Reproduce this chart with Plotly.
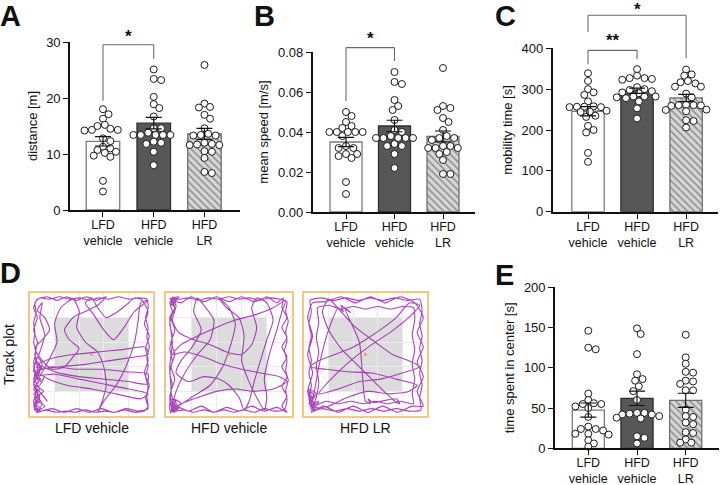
import numpy as np
import plotly.graph_objects as go

W, H = 723, 485
FONT = "Liberation Sans, Arial, sans-serif"

# ---------------- data ----------------
groups = ["LFD<br>vehicle", "HFD<br>vehicle", "HFD<br>LR"]

dist_lfd = [18.0, 17.1, 16.3, 15.2, 15.0, 14.5, 14.3, 14.3, 14.2, 12.8, 12.3, 11.3, 11.0, 10.7, 10.4, 10.2, 9.7, 9.5, 5.2, 3.3]
dist_hfd = [25.1, 23.4, 23.2, 20.2, 18.9, 18.2, 16.7, 14.6, 14.6, 13.4, 13.4, 13.4, 13.4, 13.4, 13.8, 12.0, 12.2, 11.8, 10.4, 8.0]
dist_lr = [25.9, 19.0, 18.4, 18.3, 17.0, 16.3, 14.6, 13.3, 13.6, 13.3, 13.4, 12.0, 11.6, 11.7, 11.6, 11.8, 10.5, 10.4, 9.3, 6.8, 6.6]

speed_lfd = [0.050, 0.048, 0.045, 0.043, 0.042, 0.038, 0.040, 0.040, 0.040, 0.040, 0.040, 0.032, 0.032, 0.033, 0.028, 0.029, 0.029, 0.027, 0.015, 0.009]
speed_hfd = [0.070, 0.065, 0.064, 0.056, 0.053, 0.051, 0.046, 0.041, 0.040, 0.037, 0.037, 0.037, 0.037, 0.037, 0.038, 0.033, 0.034, 0.033, 0.029, 0.022]
speed_lr = [0.072, 0.053, 0.052, 0.051, 0.047, 0.045, 0.041, 0.037, 0.038, 0.036, 0.037, 0.033, 0.032, 0.032, 0.032, 0.033, 0.030, 0.029, 0.026, 0.019, 0.019]

mob_lfd = [339, 320, 300, 292, 286, 270, 258, 257, 257, 256, 256, 247, 245, 244, 235, 232, 210, 200, 194, 144, 122]
mob_hfd = [349, 333, 327, 327, 325, 323, 305, 295, 300, 298, 292, 290, 282, 282, 282, 280, 278, 270, 253, 228]
mob_lr = [348, 336, 333, 320, 317, 314, 306, 306, 289, 280, 261, 261, 262, 260, 259, 249, 250, 246, 224, 222, 206]

center_lfd = [146, 125, 123, 68, 60, 56, 55, 55, 52, 50, 39, 27, 24, 24, 22, 18, 17, 18, 10, 6, 2]
center_hfd = [149, 142, 117, 92, 86, 84, 77, 71, 60, 44, 43, 42, 44, 42, 40, 38, 37, 15, 13, 6]
center_lr = [141, 113, 105, 95, 94, 84, 83, 80, 72, 72, 48, 40, 39, 32, 30, 20, 19, 11, 7, 7]

# significance brackets: (panel, x_from, x_to, y_top, y_left_end, y_right_end, label, label_y)
brackets = [
    ("A", 0, 1, 29.5, 19.5, 27.0, "*", 30.9),
    ("B", 0, 1, 0.0822, 0.0555, 0.0755, "*", 0.0866),
    ("C", 0, 1, 395, 361, 374, "**", 419),
    ("C", 0, 2, 481, 440, 376, "*", 495),
]

track_names = ["LFD vehicle", "HFD vehicle", "HFD LR"]
track_lfd = (
    "4,4 3,12 5,20 3,28 4,36 3,44 5,52 3,60 4,68 3,76 5,84 4,92 8,96 16,95 24,97 32,95 40,96 48,94 56,96 64,95 "
    "72,97 80,95 88,96 95,95 96,88 94,80 96,72 95,64 97,56 95,48 96,40 94,32 96,24 95,16 96,8 93,4 85,3 77,5 "
    "69,3 61,4 53,3 45,5 37,3 29,4 21,3 13,5 6,3 4,8 7,14 3,18 8,22 5,26 9,30 4,33 8,36 5,40 10,38 6,44 3,40 "
    "9,28 12,32 7,24 4,30 10,42 6,48 3,36 8,38 25,40 45,42 65,45 85,48 96,50 94,56 75,54 55,52 35,50 15,46 "
    "7,42 20,36 40,32 60,30 80,28 95,26 96,34 78,36 58,38 38,38 18,40 6,36 15,30 30,25 50,22 70,18 90,14 "
    "96,18 80,22 60,26 40,30 20,34 5,32 6,30 15,45 22,60 20,75 25,88 35,95 40,85 38,72 45,60 55,52 60,40 "
    "62,25 58,10 55,3 60,12 70,25 78,40 85,60 88,78 90,92 96,94 85,85 75,70 68,62 60,70 52,82 45,92 50,96 "
    "55,88 62,80 70,84 78,90 85,96 90,95 96,85 93,75 97,65 94,55 96,45 93,35 97,25 94,15 96,6 88,4 78,6 "
    "68,3 58,6 48,3 38,6 28,3 18,6 8,4 4,10 6,18 3,26 7,34 4,50 6,60 3,70 6,80 3,88 6,95 14,97 22,94 30,97 "
    "38,94 46,97 54,94 62,97 55,90 45,85 35,80 28,70 32,62 40,55 35,48 28,40 18,38 10,45 4,55 10,62 16,70 "
    "12,80 6,86 10,92 8,80 12,66 8,52 5,44 9,38 4,34 7,28 3,22 8,16 4,10 9,6 5,3 10,10 6,16 11,20 5,24 "
    "8,12 3,8 7,5 12,8 4,14 9,18 14,12 6,22")
track_hfd = (
    "5,5 3,12 6,8 4,4 8,6 3,15 5,25 3,35 5,45 3,55 5,65 3,75 5,85 3,92 6,96 4,90 8,94 5,97 10,95 18,96 26,94 "
    "34,96 42,95 50,97 58,95 66,96 74,94 82,96 90,95 96,93 95,85 97,77 95,69 96,61 94,53 96,45 95,37 97,29 "
    "95,21 96,13 94,5 86,4 78,6 70,3 62,5 54,3 46,5 38,3 30,5 22,3 14,5 7,4 4,8 8,12 3,14 6,4 10,8 20,15 "
    "35,25 45,40 52,60 55,75 50,88 42,96 48,88 58,80 62,65 60,45 65,30 72,15 78,5 80,15 78,30 82,50 88,70 "
    "92,85 95,94 85,88 70,82 55,78 40,72 25,65 12,58 5,50 15,52 30,48 45,42 60,38 75,35 90,32 96,28 85,22 "
    "70,20 55,22 40,20 25,15 12,10 5,6 6,10 4,20 7,30 4,40 7,50 4,60 7,70 4,80 7,88 5,94 12,92 20,97 30,93 "
    "40,97 50,93 60,97 70,93 80,97 88,92 93,96 92,88 96,80 92,72 96,64 92,56 96,48 92,40 96,32 92,24 96,16 "
    "92,8 96,3 88,7 78,4 68,8 58,4 48,7 38,3 28,8 18,4 10,7 4,3 8,20 15,35 25,50 35,62 38,78 30,90 25,96 "
    "22,85 28,70 20,55 12,45 8,35 18,28 30,32 42,30 50,25 58,15 62,5 66,12 70,28 75,45 80,62 85,78 80,92 "
    "72,96 68,88 72,72 68,58 60,50 48,52 35,58 22,62 10,68 5,78 8,90 4,95 10,97 6,92 3,96 8,93 5,90 9,96 "
    "4,92 7,88 3,80 5,60 3,40 4,20 3,5 7,3 4,9 9,5 5,12 8,8 3,3 10,6 6,14 12,10 4,6")
track_lr = (
    "6,5 4,15 6,25 4,35 6,45 4,55 6,65 4,75 6,85 5,94 14,96 24,94 34,96 44,94 54,96 64,94 74,96 84,94 94,95 "
    "96,85 94,75 96,65 94,55 96,45 94,35 96,25 94,15 95,5 85,4 75,6 65,4 55,6 45,4 35,6 25,4 15,6 7,5 10,15 "
    "12,28 10,40 12,52 10,64 12,76 11,88 20,90 30,87 40,89 50,87 60,89 70,87 80,89 89,88 90,78 88,66 90,54 "
    "88,42 90,30 88,18 89,10 78,12 68,10 58,12 48,10 38,12 28,10 18,12 10,9 6,12 9,16 5,20 8,8 4,10 7,14 "
    "12,40 20,70 28,88 32,85 30,90 35,86 38,84 33,88 45,60 50,12 54,10 52,14 56,11 75,14 78,10 74,12 60,25 "
    "45,40 30,55 20,70 15,85 20,95 30,85 42,72 58,60 72,50 85,45 94,40 80,35 62,30 45,28 28,22 12,18 22,30 "
    "38,45 55,58 70,68 85,80 94,90 86,92 75,80 62,70 50,62 38,55 25,50 12,45 5,40 18,38 35,36 55,35 75,30 "
    "92,25 85,20 70,18 52,20 35,15 20,8 8,7 3,20 7,35 3,50 7,65 3,80 7,92 18,93 30,97 42,92 54,97 66,92 "
    "78,97 90,92 97,80 92,68 97,56 92,44 97,32 92,20 97,8 88,8 76,3 64,8 52,3 40,8 28,3 16,8 6,3 9,10 5,14 "
    "10,18 4,22 8,6 12,12 6,8 10,4")
tracks = [track_lfd, track_hfd, track_lr]

# ---------------- layout geometry (pixels) ----------------
panels = {
    "A": dict(vals=[dist_lfd, dist_hfd, dist_lr], px=(70, 240), py=(42, 210), xr=(-0.65, 2.70), yr=(0, 30),
              ticks=[0, 10, 20, 30], fmt="", title="distance [m]"),
    "B": dict(vals=[speed_lfd, speed_hfd, speed_lr], px=(312.7, 475), py=(52, 212), xr=(-0.687, 2.66), yr=(0, 0.08),
              ticks=[0, 0.02, 0.04, 0.06, 0.08], fmt=".2f", title="mean speed [m/s]"),
    "C": dict(vals=[mob_lfd, mob_hfd, mob_lr], px=(552.7, 718), py=(48.3, 211.7), xr=(-0.72, 2.65), yr=(0, 400),
              ticks=[0, 100, 200, 300, 400], fmt="", title="mobility time [s]"),
    "E": dict(vals=[center_lfd, center_hfd, center_lr], px=(555, 719.3), py=(287.3, 448.3), xr=(-0.684, 2.69),
              yr=(0, 200), ticks=[0, 50, 100, 150, 200], fmt="", title="time spent in center [s]"),
}
track_boxes = [(30, 153), (166, 292), (304, 427)]
track_py = (293, 416)

bar_fill = ["#ffffff", "#575757", "#d6d6d6"]
bar_line = ["#7a7a7a", "#2e2e2e", "#6e6e6e"]


def swarm(vals, ppu, ppc, d=7.4):
    vals = np.asarray(vals, float)
    order = np.argsort(-vals, kind="stable")
    placed = []
    offs = np.zeros(len(vals))
    step = d / 4
    steps = [0.0]
    for k in range(1, 60):
        steps += [k * step, -k * step]
    lim = (d * 0.86) ** 2
    for i in order:
        y = vals[i] * ppu
        for s in steps:
            if all((s - px) ** 2 + (y - py) ** 2 >= lim for px, py in placed):
                offs[i] = s
                placed.append((s, y))
                break
    return offs / ppc


fig = go.Figure()
layout = dict(width=W, height=H, margin=dict(l=0, r=0, t=0, b=0, autoexpand=False), paper_bgcolor="white",
              plot_bgcolor="white", showlegend=False, font=dict(family=FONT, color="#111", size=13))
annotations = []
shapes = []


def to_paper(p, xd, yd):
    x0, x1 = p["px"]
    y0, y1 = p["py"]
    xr, yr = p["xr"], p["yr"]
    px = x0 + (xd - xr[0]) / (xr[1] - xr[0]) * (x1 - x0)
    py = y1 - (yd - yr[0]) / (yr[1] - yr[0]) * (y1 - y0)
    return px / W, 1 - py / H


for idx, (key, p) in enumerate(panels.items(), start=1):
    xa, ya = f"x{idx}", f"y{idx}"
    xn = "xaxis" if idx == 1 else f"xaxis{idx}"
    yn = "yaxis" if idx == 1 else f"yaxis{idx}"
    means = [float(np.mean(v)) for v in p["vals"]]
    sems = [float(np.std(v, ddof=1) / np.sqrt(len(v))) for v in p["vals"]]
    fig.add_trace(go.Bar(
        x=[0, 1, 2], y=means, width=0.66, xaxis=xa, yaxis=ya,
        marker=dict(color=bar_fill, line=dict(color=bar_line, width=1.3),
                    pattern=dict(shape=["", "", "\\"], fgcolor="#8e8e8e", bgcolor="#d6d6d6",
                                 size=5, solidity=0.3)),
        hoverinfo="skip"))
    ppu = (p["py"][1] - p["py"][0]) / (p["yr"][1] - p["yr"][0])
    ppc = (p["px"][1] - p["px"][0]) / (p["xr"][1] - p["xr"][0])
    for g, v in enumerate(p["vals"]):
        offs = swarm(v, ppu, ppc)
        fig.add_trace(go.Scatter(
            x=g + offs, y=v, mode="markers", xaxis=xa, yaxis=ya, cliponaxis=False,
            marker=dict(size=7, color="white", line=dict(color="#1a1a1a", width=1)), hoverinfo="skip"))
    fig.add_trace(go.Scatter(
        x=[0, 1, 2], y=means, mode="markers", xaxis=xa, yaxis=ya,
        marker=dict(size=1, color="rgba(0,0,0,0)"),
        error_y=dict(type="data", array=sems, color="#111", thickness=1.2, width=8), hoverinfo="skip"))
    layout[xn] = dict(domain=[p["px"][0] / W, p["px"][1] / W], range=list(p["xr"]), anchor=ya,
                      tickvals=[0, 1, 2], ticktext=groups, ticks="outside", ticklen=5, tickwidth=1.3,
                      tickcolor="#111", showline=True, linecolor="#111", linewidth=1.6, showgrid=False,
                      zeroline=False, tickfont=dict(size=12.5), ticklabelstandoff=-3)
    layout[yn] = dict(domain=[1 - p["py"][1] / H, 1 - p["py"][0] / H], range=list(p["yr"]), anchor=xa,
                      tickvals=p["ticks"], tickformat=p["fmt"], ticks="outside", ticklen=5, tickwidth=1.3,
                      tickcolor="#111", showline=True, linecolor="#111", linewidth=1.6, showgrid=False,
                      zeroline=False, tickfont=dict(size=13),
                      title=dict(text=p["title"], font=dict(size=13), standoff=6))

for key, xf, xt, ytop, yl, yr_, lab, ly in brackets:
    p = panels[key]
    ax, ay = to_paper(p, xf, yl)
    bx, by = to_paper(p, xf, ytop)
    cx, cy = to_paper(p, xt, ytop)
    dx, dy = to_paper(p, xt, yr_)
    for (u0, v0, u1, v1) in [(ax, ay, bx, by), (bx, by, cx, cy), (cx, cy, dx, dy)]:
        shapes.append(dict(type="line", xref="paper", yref="paper", x0=u0, y0=v0, x1=u1, y1=v1,
                           line=dict(color="#6a6a6a", width=1.1)))
    lx, lyp = to_paper(p, (xf + xt) / 2, ly)
    annotations.append(dict(x=lx, y=lyp, xref="paper", yref="paper", text=f"<b>{lab}</b>", showarrow=False,
                            xanchor="center", yanchor="middle", yshift=0, font=dict(size=17, color="#111")))

# track plots
for t, (bx0, bx1) in enumerate(track_boxes):
    i = 5 + t
    xa, ya = f"x{i}", f"y{i}"
    pts = np.array([[float(a) for a in s.split(",")] for s in tracks[t].split()])
    fig.add_trace(go.Scatter(x=pts[:, 0], y=pts[:, 1], mode="lines", xaxis=xa, yaxis=ya,
                             line=dict(color="rgba(150,20,170,0.8)", width=1.1, shape="spline", smoothing=0.6),
                             hoverinfo="skip"))
    fig.add_trace(go.Scatter(x=[50], y=[50], mode="markers", xaxis=xa, yaxis=ya,
                             marker=dict(size=3, color="#f0a040"), hoverinfo="skip"))
    layout[f"xaxis{i}"] = dict(domain=[bx0 / W, bx1 / W], range=[0, 100], anchor=ya, showticklabels=False,
                               ticks="", showgrid=True, gridcolor="#ebebeb", dtick=20, zeroline=False,
                               showline=True, mirror=True, linecolor="#f6c683", linewidth=2)
    layout[f"yaxis{i}"] = dict(domain=[1 - track_py[1] / H, 1 - track_py[0] / H], range=[0, 100], anchor=xa,
                               showticklabels=False, ticks="", showgrid=True, gridcolor="#ebebeb", dtick=20,
                               zeroline=False, showline=True, mirror=True, linecolor="#f6c683", linewidth=2)
    shapes.append(dict(type="rect", xref=xa, yref=ya, x0=20, x1=80, y0=20, y1=80, fillcolor="#dcdcdc",
                       line=dict(width=0), layer="below"))
    annotations.append(dict(x=(bx0 + bx1) / 2 / W, y=1 - 428 / H, xref="paper", yref="paper",
                            text=track_names[t], showarrow=False, xanchor="center", yanchor="middle",
                            font=dict(size=14, color="#111")))

annotations.append(dict(x=9 / W, y=1 - 355 / H, xref="paper", yref="paper", text="Track plot",
                        textangle=-90, showarrow=False, xanchor="center", yanchor="middle",
                        font=dict(size=14, color="#111")))

for lab, lx, ly in [("A", 0, 0), ("B", 254, 0), ("C", 495, 0), ("D", 0, 257), ("E", 495, 259)]:
    annotations.append(dict(x=lx / W, y=1 - ly / H, xref="paper", yref="paper", text=f"<b>{lab}</b>",
                            showarrow=False, xanchor="left", yanchor="top", borderpad=0, borderwidth=0,
                            font=dict(size=29, color="#111")))

layout["annotations"] = annotations
layout["shapes"] = shapes
fig.update_layout(**layout)
fig.write_html("out.html", config={"displayModeBar": False},
               post_script="document.body.style.margin='0px';document.body.style.overflow='hidden';")
